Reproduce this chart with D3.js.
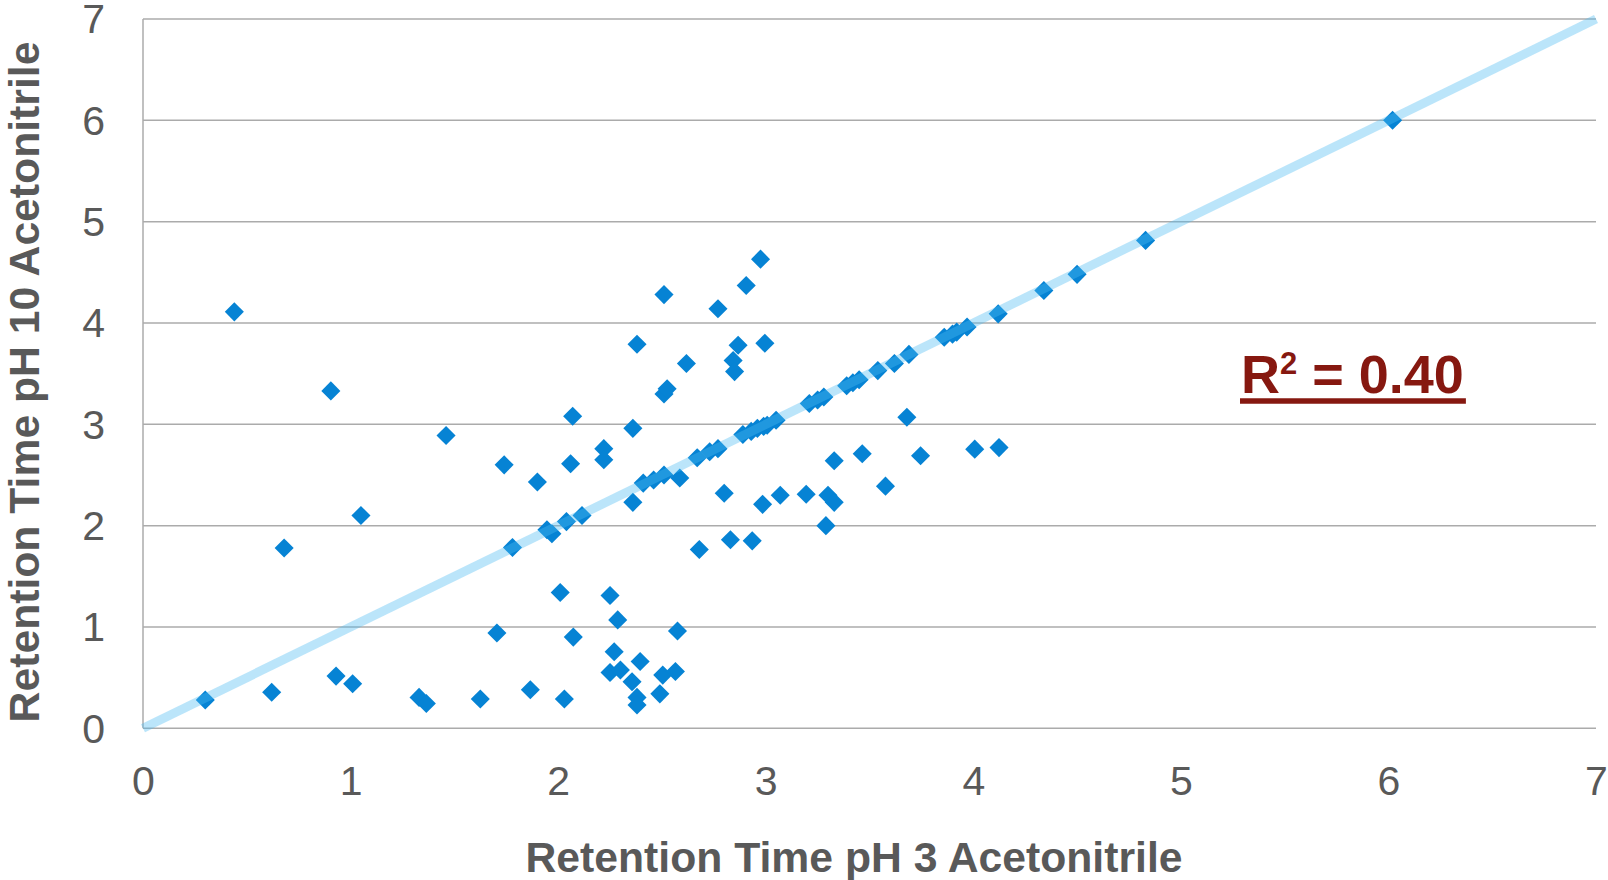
<!DOCTYPE html>
<html>
<head>
<meta charset="utf-8">
<script src="https://cdn.jsdelivr.net/npm/d3@7"></script>
<style>
  html, body { margin: 0; padding: 0; background: #ffffff; }
  svg { display: block; }
</style>
</head>
<body>
<svg id="chart" width="1608" height="880"></svg>
<script>
// Retention times (minutes) of each compound at pH 3 (x) and pH 10 (y), acetonitrile gradient
const ph3Times = [
  0.44, 0.905, 1.46, 0.68, 1.05, 0.30, 0.62, 0.93, 1.01, 1.33,
  1.365, 1.625, 1.705, 1.74, 1.78, 1.866, 1.90, 1.946, 1.97, 2.01,
  2.03, 2.04, 2.06, 2.07, 2.073, 2.115, 2.22, 2.22, 2.25, 2.25,
  2.27, 2.287, 2.30, 2.356, 2.36, 2.36, 2.38, 2.38, 2.38, 2.395,
  2.41, 2.46, 2.51, 2.49, 2.504, 2.51, 2.51, 2.525, 2.565, 2.575,
  2.586, 2.618, 2.67, 2.68, 2.73, 2.77, 2.77, 2.80, 2.83, 2.843,
  2.85, 2.867, 2.89, 2.906, 2.93, 2.935, 2.96, 2.975, 2.985, 2.99,
  2.996, 3.007, 3.05, 3.07, 3.195, 3.21, 3.25, 3.28, 3.29, 3.30,
  3.33, 3.33, 3.39, 3.42, 3.45, 3.465, 3.54, 3.577, 3.62, 3.68,
  3.69, 3.746, 3.86, 3.90, 3.92, 3.97, 4.007, 4.12, 4.124, 4.34,
  4.50, 4.83, 6.02
];
const ph10Times = [
  4.11, 3.33, 2.89, 1.78, 2.10, 0.28, 0.355, 0.515, 0.44, 0.305,
  0.245, 0.29, 0.94, 2.60, 1.785, 0.38, 2.43, 1.96, 1.92, 1.34,
  0.29, 2.04, 2.61, 3.08, 0.90, 2.10, 2.76, 2.65, 1.31, 0.55,
  0.755, 1.07, 0.575, 0.46, 2.96, 2.23, 3.79, 0.305, 0.23, 0.66,
  2.42, 2.45, 2.50, 0.34, 0.525, 4.28, 3.30, 3.35, 0.56, 0.96,
  2.47, 3.60, 2.67, 1.765, 2.73, 2.76, 4.14, 2.32, 1.86, 3.63,
  3.52, 3.78, 2.90, 4.37, 2.93, 1.85, 2.96, 4.63, 2.21, 2.98,
  3.80, 2.99, 3.04, 2.30, 2.31, 3.205, 3.24, 3.27, 2.00, 2.30,
  2.23, 2.64, 3.38, 3.41, 3.44, 2.71, 3.53, 2.39, 3.60, 3.07,
  3.69, 2.69, 3.86, 3.89, 3.91, 3.96, 2.755, 4.09, 2.77, 4.32,
  4.48, 4.815, 6.00
];

const xTickValues = [0, 1, 2, 3, 4, 5, 6, 7];
const yTickValues = [0, 1, 2, 3, 4, 5, 6, 7];
const xAxisTitle = "Retention Time pH 3 Acetonitrile";
const yAxisTitle = "Retention Time pH 10 Acetonitrile";

// Reference trend line y = slope * x + intercept, and its coefficient of determination
const trendSlope = 1.0;
const trendIntercept = 0.0;
const trendRange = [0, 7];
const rSquaredText = "0.40";

const svg = d3.select("#chart");
const plot = { left: 143, right: 1596, top: 19, bottom: 728.3 };

const x = d3.scaleLinear().domain([0, 7]).range([plot.left, plot.right]);
const y = d3.scaleLinear().domain([0, 7]).range([plot.bottom, plot.top]);

const textColor = "#595959";
const gridColor = "#ababab";
const fontFamily = "'Liberation Sans', Arial, Helvetica, sans-serif";

svg.append("rect").attr("width", 1608).attr("height", 880).attr("fill", "#ffffff");

// Horizontal gridlines
svg.append("g")
  .selectAll("line")
  .data(yTickValues)
  .join("line")
  .attr("x1", plot.left)
  .attr("x2", plot.right)
  .attr("y1", d => y(d))
  .attr("y2", d => y(d))
  .attr("stroke", gridColor)
  .attr("stroke-width", 1.5);

// Vertical axis line
svg.append("line")
  .attr("x1", x(0)).attr("x2", x(0))
  .attr("y1", y(0)).attr("y2", y(7))
  .attr("stroke", gridColor)
  .attr("stroke-width", 1.5);

// Tick labels via axis generators
const yAxis = svg.append("g")
  .attr("transform", `translate(${plot.left},0)`)
  .call(d3.axisLeft(y).tickValues(yTickValues).tickFormat(d3.format("d")).tickSize(0).tickPadding(38));
const xAxis = svg.append("g")
  .attr("transform", `translate(0,${plot.bottom})`)
  .call(d3.axisBottom(x).tickValues(xTickValues).tickFormat(d3.format("d")).tickSize(0).tickPadding(37.5));

[xAxis, yAxis].forEach(g => {
  g.select(".domain").remove();
  g.selectAll("text")
    .attr("fill", textColor)
    .style("font-family", fontFamily)
    .style("font-size", "41px");
});
yAxis.selectAll("text").attr("dy", "0.34em");

// Data points (diamonds)
const points = ph3Times.map((v, i) => ({ x: v, y: ph10Times[i] }));
const diamond = d3.symbol().type(d3.symbolSquare).size(182);
svg.append("g")
  .selectAll("path")
  .data(points)
  .join("path")
  .attr("d", diamond)
  .attr("transform", d => `translate(${x(d.x)},${y(d.y)}) rotate(45)`)
  .attr("fill", "#0683d4");

// Trend line, translucent, drawn over the markers
const trendPoints = trendRange.map(v => ({ x: v, y: trendSlope * v + trendIntercept }));
svg.append("path")
  .datum(trendPoints)
  .attr("d", d3.line().x(d => x(d.x)).y(d => y(d.y)))
  .attr("fill", "none")
  .attr("stroke", "rgb(76,186,242)")
  .attr("stroke-opacity", 0.38)
  .attr("stroke-width", 9)
  .attr("stroke-linecap", "butt");

// Axis titles
svg.append("text")
  .attr("x", 854)
  .attr("y", 872)
  .attr("text-anchor", "middle")
  .attr("fill", textColor)
  .style("font-family", fontFamily)
  .style("font-weight", "bold")
  .style("font-size", "42.7px")
  .text(xAxisTitle);

svg.append("text")
  .attr("transform", "translate(39,382) rotate(-90)")
  .attr("text-anchor", "middle")
  .attr("fill", textColor)
  .style("font-family", fontFamily)
  .style("font-weight", "bold")
  .style("font-size", "42.7px")
  .text(yAxisTitle);

// R² annotation with underline
const rColor = "#861810";
const rLabel = svg.append("text")
  .attr("x", 1241)
  .attr("y", 393)
  .attr("fill", rColor)
  .style("font-family", fontFamily)
  .style("font-weight", "bold")
  .style("font-size", "54px");
rLabel.append("tspan").text("R");
rLabel.append("tspan").attr("dy", -19).style("font-size", "31px").text("2");
rLabel.append("tspan").attr("dy", 19).text(" = " + rSquaredText);

const bb = rLabel.node().getBBox();
svg.append("line")
  .attr("x1", bb.x - 1)
  .attr("x2", bb.x + bb.width + 2)
  .attr("y1", 401)
  .attr("y2", 401)
  .attr("stroke", rColor)
  .attr("stroke-width", 5.5);
</script>
</body>
</html>
